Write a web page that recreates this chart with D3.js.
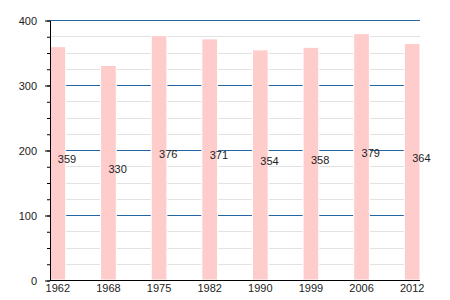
<!DOCTYPE html>
<html>
<head>
<meta charset="utf-8">
<script src="https://cdn.jsdelivr.net/npm/d3@7"></script>
<style>
  body { margin: 0; background: #fff; }
  text { font-family: "Liberation Sans", Arial, sans-serif; }
</style>
</head>
<body>
<svg id="chart" width="450" height="300"></svg>
<script>
// population by census year
const years = ["1962", "1968", "1975", "1982", "1990", "1999", "2006", "2012"];
const population = [359, 330, 376, 371, 354, 358, 379, 364];
const yTicks = [0, 100, 200, 300, 400];

const margin = { top: 20, right: 30, bottom: 20, left: 50 };
const width = 450, height = 300;

const svg = d3.select("#chart");

const x = d3.scaleBand()
            .domain(years)
            .range([margin.left, width - margin.right])
            .paddingInner(0.69)
            .paddingOuter(0);

const y = d3.scaleLinear()
            .domain([0, 400])
            .range([height - margin.bottom, margin.top]);

// half pixel so 1px lines stay sharp
const yl = v => Math.round(y(v)) + 0.5;

// minor grid every 25
svg.append("g")
   .selectAll("line")
   .data(d3.range(25, 400, 25).filter(v => v % 100 !== 0))
   .join("line")
   .attr("x1", margin.left).attr("x2", width - margin.right)
   .attr("y1", yl).attr("y2", yl)
   .attr("stroke", "#e2e2e2").attr("stroke-width", 1);

// major grid
svg.append("g")
   .selectAll("line")
   .data(yTicks.filter(v => v > 0))
   .join("line")
   .attr("x1", margin.left).attr("x2", width - margin.right)
   .attr("y1", yl).attr("y2", yl)
   .attr("stroke", "#2466a3").attr("stroke-width", 1.2);

// bars
svg.append("g")
   .selectAll("rect")
   .data(years)
   .join("rect")
   .attr("x", d => x(d))
   .attr("y", (d, i) => y(population[i]))
   .attr("width", x.bandwidth())
   .attr("height", (d, i) => y(0) - y(population[i]))
   .attr("fill", "#ffcccc")
   .attr("stroke", "#fff")
   .attr("stroke-width", 1);

// value labels
svg.append("g")
   .selectAll("text")
   .data(years)
   .join("text")
   .attr("x", d => x(d) + x.bandwidth() / 2)
   .attr("y", (d, i) => (y(0) + y(population[i])) / 2)
   .attr("font-size", 11)
   .attr("fill", "#222")
   .text((d, i) => population[i]);

// y axis: minor ticks then major
svg.append("g")
   .attr("transform", `translate(${margin.left},0.5)`)
   .call(d3.axisLeft(y).tickValues(d3.range(0, 401, 25)).tickSize(3).tickFormat(""))
   .call(g => g.select(".domain").remove());

svg.append("g")
   .attr("transform", `translate(${margin.left},0.5)`)
   .call(d3.axisLeft(y).tickValues(yTicks).tickSize(5).tickSizeOuter(0).tickPadding(8))
   .call(g => g.selectAll("text").attr("font-size", 11).attr("fill", "#222").attr("font-family", null));

// x axis
svg.append("g")
   .attr("transform", `translate(0,${y(0) + 0.5})`)
   .call(d3.axisBottom(x).tickSize(0).tickPadding(4))
   .call(g => g.select(".domain").attr("d", `M${margin.left},0H${width - margin.right}`))
   .call(g => g.selectAll("text").attr("font-size", 11).attr("fill", "#222").attr("font-family", null));
</script>
</body>
</html>
